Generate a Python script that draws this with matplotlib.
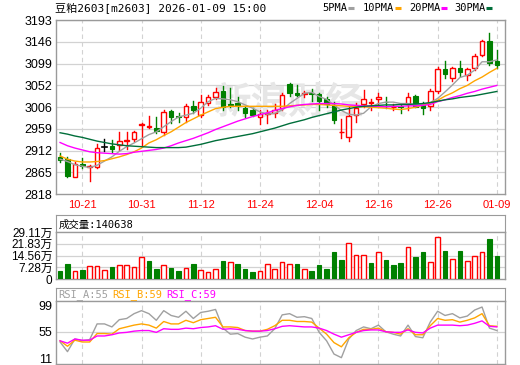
import numpy as np
import matplotlib
matplotlib.use("Agg")
from matplotlib import pyplot as plt
from matplotlib.patches import Rectangle
from matplotlib.lines import Line2D
from matplotlib.transforms import blended_transform_factory

# ---- data ----
title_text = "豆粕2603[m2603] 2026-01-09 15:00"
date_labels = ["10-21", "10-31", "11-12", "11-24", "12-04", "12-16", "12-26", "01-09"]
date_index = [3, 11, 19, 27, 35, 43, 51, 59]

prev_close = 2898
open_ = [2897, 2893, 2855, 2882, 2877, 2877, 2919, 2921, 2923, 2932,
         2936, 2966, 2962, 2961, 2952, 2997, 2986, 2985, 3008, 2988,
         3015, 3026, 3040, 3013, 3015, 3003, 2998, 2983, 2990, 2992,
         3003, 3055, 3036, 3034, 3036, 3033, 3022, 3010, 2951, 2940,
         2988, 3011, 3014, 3022, 3017, 3005, 3007, 3012, 3029, 3010,
         3008, 3039, 3087, 3067, 3089, 3074, 3089, 3118, 3148, 3105]
high = [2906, 2898, 2888, 2895, 2880, 2926, 2936, 2934, 2952, 2952,
        2954, 2972, 2986, 2985, 2999, 3000, 2992, 3012, 3019, 3031,
        3031, 3046, 3051, 3046, 3026, 3006, 3003, 3000, 3000, 3011,
        3035, 3057, 3053, 3041, 3044, 3035, 3026, 3017, 2979, 3005,
        3015, 3042, 3023, 3035, 3028, 3013, 3013, 3035, 3031, 3017,
        3044, 3092, 3105, 3092, 3105, 3090, 3119, 3150, 3166, 3128]
low = [2887, 2855, 2855, 2875, 2847, 2875, 2911, 2909, 2913, 2916,
       2933, 2924, 2961, 2950, 2945, 2970, 2974, 2974, 2992, 2985,
       3010, 3022, 3000, 3006, 2999, 2985, 2986, 2969, 2970, 2985,
       3000, 3029, 3029, 3028, 3019, 2999, 3006, 2972, 2938, 2933,
       2974, 3005, 2999, 3013, 3003, 2998, 2993, 2999, 3005, 2990,
       2999, 3036, 3069, 3062, 3072, 3064, 3085, 3115, 3096, 3089]
close = [2891, 2857, 2882, 2878, 2879, 2918, 2919, 2914, 2932, 2934,
         2952, 2969, 2964, 2954, 2994, 2985, 2983, 3008, 2998, 3017,
         3026, 3037, 3006, 3010, 3008, 2992, 2989, 2991, 2993, 2999,
         3031, 3036, 3032, 3036, 3034, 3019, 3011, 2977, 2952, 2986,
         3004, 3023, 3016, 3026, 3016, 3006, 3005, 3026, 3006, 3003,
         3040, 3087, 3076, 3089, 3082, 3087, 3115, 3147, 3100, 3096]

ma5 = [2893, 2888, 2881, 2878, 2875, 2880, 2889, 2898, 2910, 2920,
       2928, 2937, 2946, 2952, 2963, 2974, 2984, 2988, 2992, 3003,
       3017, 3024, 3023, 3021, 3017, 3010, 3003, 2995, 2990, 2992,
       2999, 3013, 3024, 3035, 3037, 3028, 3022, 3010, 2998, 2990,
       2988, 2992, 3006, 3013, 3016, 3016, 3013, 3013, 3010, 3011,
       3015, 3024, 3038, 3053, 3069, 3074, 3085, 3103, 3103, 3107]
ma10 = [2900, 2893, 2889, 2887, 2887, 2888, 2890, 2894, 2898, 2903,
        2909, 2917, 2928, 2935, 2944, 2952, 2962, 2972, 2980, 2988,
        2995, 3002, 3005, 3007, 3007, 3007, 3007, 3007, 3007, 3007,
        3007, 3008, 3009, 3010, 3011, 3011, 3010, 3009, 3008, 3007,
        3007, 3006, 3005, 3004, 3003, 3001, 3000, 3002, 3005, 3009,
        3014, 3020, 3029, 3036, 3045, 3052, 3062, 3070, 3080, 3089]
ma20 = [2929, 2922, 2917, 2913, 2909, 2907, 2906, 2905, 2904, 2905,
        2908, 2910, 2912, 2914, 2917, 2922, 2928, 2933, 2938, 2944,
        2950, 2957, 2963, 2969, 2975, 2980, 2985, 2989, 2993, 2998,
        3002, 3006, 3009, 3011, 3012, 3013, 3013, 3013, 3012, 3010,
        3009, 3008, 3007, 3007, 3006, 3007, 3007, 3008, 3008, 3009,
        3011, 3017, 3021, 3026, 3030, 3035, 3039, 3044, 3048, 3052]
ma30 = [2950, 2947, 2943, 2940, 2936, 2932, 2929, 2926, 2924, 2922,
        2921, 2920, 2919, 2918, 2918, 2918, 2918, 2919, 2922, 2925,
        2929, 2933, 2936, 2939, 2942, 2945, 2948, 2952, 2956, 2960,
        2965, 2970, 2974, 2978, 2983, 2987, 2991, 2995, 2999, 3002,
        3005, 3007, 3008, 3009, 3010, 3010, 3011, 3011, 3012, 3013,
        3015, 3018, 3021, 3023, 3026, 3028, 3030, 3033, 3036, 3039]

volume = [47000, 95000, 51000, 58000, 82000, 82000, 56000, 76000, 87000, 87000,
          74000, 136000, 113000, 64000, 87000, 70000, 47000, 66000, 90000, 58000,
          43000, 62000, 113000, 107000, 95000, 64000, 41000, 51000, 93000, 62000,
          105000, 93000, 93000, 62000, 51000, 87000, 62000, 167000, 120000, 223000,
          149000, 149000, 101000, 167000, 120000, 89000, 101000, 198000, 138000, 167000,
          107000, 260000, 173000, 126000, 173000, 113000, 142000, 167000, 250000, 140638]
vol_ticks = [0, 72775, 145550, 218325, 291100]
vol_tick_labels = ["0", "7.28万", "14.56万", "21.83万", "29.11万"]

rsi_a = [38, 22, 43, 40, 42, 68, 68, 63, 75, 77, 85, 90, 85, 74, 90, 82, 79, 89, 77, 87,
         89, 92, 61, 51, 52, 46, 43, 46, 48, 60, 83, 85, 79, 80, 77, 54, 40, 18, 12, 43,
         57, 63, 60, 66, 55, 51, 48, 66, 47, 45, 71, 89, 82, 85, 78, 81, 91, 96, 61, 57]
rsi_b = [40, 31, 41, 38, 38, 52, 52, 51, 60, 63, 66, 68, 66, 61, 72, 68, 68, 74, 70, 75,
         77, 79, 63, 63, 62, 57, 56, 56, 59, 65, 74, 74, 72, 72, 71, 61, 51, 37, 30, 45,
         54, 59, 59, 61, 55, 54, 51, 60, 50, 50, 65, 77, 74, 75, 71, 74, 78, 85, 65, 64]
rsi_c = [40, 36, 43, 41, 41, 48, 48, 50, 53, 54, 56, 57, 57, 54, 60, 59, 59, 61, 60, 62,
         63, 65, 59, 60, 59, 57, 56, 56, 57, 60, 64, 65, 64, 63, 63, 61, 57, 51, 46, 50,
         54, 57, 58, 58, 55, 54, 54, 58, 54, 53, 61, 66, 66, 66, 65, 66, 69, 73, 64, 63]
rsi_names = ["RSI_A:55", "RSI_B:59", "RSI_C:59"]
ma_names = ["5PMA", "10PMA", "20PMA", "30PMA"]

# ---- style ----
RED = "#ff0000"
GREEN = "#008000"
GRID = "#d2d2d2"
FRAME = "#9a9a9a"
MA_COLORS = ["#a0a0a0", "#ffa500", "#ff00ff", "#006e3a"]
W, H = 520.0, 365.0
MONO = ["DejaVu Sans Mono", "Noto Sans CJK SC"]
NUM = ["Liberation Sans", "Noto Sans CJK SC"]


def box(x0, y0, x1, y1):
    # pixel box (top-left origin) -> figure fraction
    return [x0 / W, 1 - y1 / H, (x1 - x0) / W, (y1 - y0) / H]


def setup(ax):
    for s in ax.spines.values():
        s.set_color(FRAME)
        s.set_linewidth(1.0)
    ax.set_xlim(-0.55, 60.1)
    ax.set_xticks([])
    ax.tick_params(axis="y", length=0, pad=2.5, labelsize=9)
    for i in date_index:
        ax.axvline(i, color=GRID, lw=0.8, ls=(0, (4, 3)), zorder=1)


n = len(close)
xs = np.arange(n)
fig = plt.figure(figsize=(W / 100, H / 100), dpi=100)

# ---- main candle panel ----
ax = fig.add_axes(box(56, 20, 505, 194))
setup(ax)
ax.set_ylim(2818, 3193)
pticks = np.linspace(2818, 3193, 9)
ax.set_yticks(pticks)
ax.set_yticklabels(["%.0f" % v for v in pticks], family=NUM)
for v in pticks[1:]:
    ax.axhline(v, color=GRID, lw=0.9, zorder=1)
ax.text(0.517, 0.53, "新浪财经", transform=ax.transAxes, ha="center", va="center",
        fontsize=27, color="#e6e6e6", family="Noto Sans CJK SC", fontweight="bold",
        style="italic", zorder=1.5)

bw = 0.62
for i in range(n):
    o, h, l, c = open_[i], high[i], low[i], close[i]
    if c > o:
        ax.plot([i, i], [l, o], color=RED, lw=1, zorder=3)
        ax.plot([i, i], [c, h], color=RED, lw=1, zorder=3)
        ax.add_patch(Rectangle((i - bw / 2, o), bw, c - o, facecolor="white",
                               edgecolor=RED, lw=1, zorder=4))
    elif c < o:
        ax.plot([i, i], [l, h], color=GREEN, lw=1, zorder=3)
        ax.add_patch(Rectangle((i - bw / 2, c), bw, o - c, facecolor=GREEN,
                               edgecolor=GREEN, lw=0.8, zorder=4))
    else:
        ax.plot([i, i], [l, h], color="black", lw=1, zorder=3)
        ax.plot([i - bw / 2, i + bw / 2], [c, c], color="black", lw=1.2, zorder=4)

for vals, col in zip([ma5, ma10, ma20, ma30], MA_COLORS):
    ax.plot(xs, vals, color=col, lw=1.0, zorder=5)

fig.text(55 / W, 1 - 8 / H, title_text, ha="left", va="center", fontsize=8, family=MONO)
leg_x = [322, 363, 409, 454]
for name, col, x in zip(ma_names, MA_COLORS, leg_x):
    t = fig.text(x / W, 1 - 8 / H, name, ha="left", va="center", fontsize=7.5, family=MONO)
    x1 = x + len(name) * 6.0 + 2
    fig.add_artist(Line2D([x1 / W, (x1 + 6) / W], [1 - 8 / H, 1 - 8 / H],
                          color=col, lw=2.2, solid_capstyle="butt"))

# date labels between panels
tr = blended_transform_factory(ax.transData, fig.transFigure)
for i, lab in zip(date_index, date_labels):
    ax.text(i, 1 - 205.5 / H, lab, transform=tr, ha="center", va="center",
            color=RED, fontsize=8, family=NUM, clip_on=False)

# ---- volume panel ----
axh = fig.add_axes(box(56, 215, 505, 232))
for s in axh.spines.values():
    s.set_color(FRAME)
axh.set_xticks([])
axh.set_yticks([])
axh.text(0.005, 0.45, "成交量:" + str(volume[-1]), transform=axh.transAxes,
         ha="left", va="center", fontsize=7.5, family=MONO)

axv = fig.add_axes(box(56, 232, 505, 279))
setup(axv)
axv.set_ylim(0, vol_ticks[-1])
axv.set_yticks(vol_ticks)
axv.set_yticklabels(vol_tick_labels, family=NUM, fontsize=8.5)
for v in vol_ticks[1:-1]:
    axv.axhline(v, color=GRID, lw=0.9, zorder=1)
prev = [prev_close] + close[:-1]
for i in range(n):
    if close[i] >= prev[i]:
        axv.add_patch(Rectangle((i - bw / 2, 0), bw, volume[i], facecolor="white",
                                edgecolor=RED, lw=1, zorder=3))
    else:
        axv.add_patch(Rectangle((i - bw / 2, 0), bw, volume[i], facecolor=GREEN,
                                edgecolor=GREEN, lw=0.8, zorder=3))

# ---- RSI panel ----
axr_h = fig.add_axes(box(56, 288, 505, 301))
for s in axr_h.spines.values():
    s.set_color(FRAME)
axr_h.set_xticks([])
axr_h.set_yticks([])
rsi_cols = ["#a0a0a0", "#ffa500", "#ff00ff"]
for name, col, x in zip(rsi_names, rsi_cols, [58, 112, 166]):
    fig.text(x / W, 1 - 295 / H, name, ha="left", va="center", fontsize=7.5,
             family=MONO, color=col)

axr = fig.add_axes(box(56, 301, 505, 364))
setup(axr)
axr.set_ylim(1.5, 106)
axr.set_yticks([11, 55, 99])
axr.set_yticklabels(["11", "55", "99"], family=NUM)
axr.axhline(55, color=GRID, lw=0.9, zorder=1)
for vals, col in zip([rsi_a, rsi_b, rsi_c], rsi_cols):
    axr.plot(xs, vals, color=col, lw=1.0, zorder=3)

fig.savefig("out.png", dpi=100)
